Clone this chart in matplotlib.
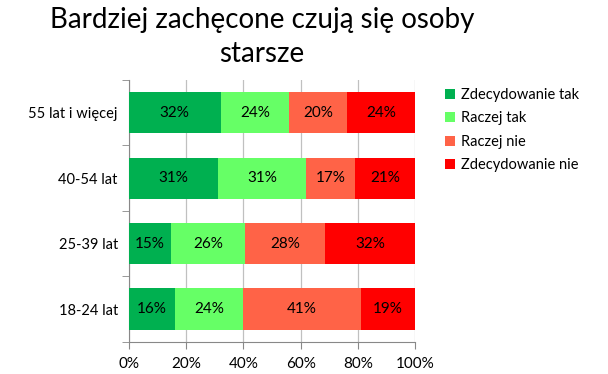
import matplotlib

matplotlib.use("Agg")
import matplotlib.pyplot as plt
import numpy as np

# data
groups = ["18-24 lat", "25-39 lat", "40-54 lat", "55 lat i więcej"]
answers = ["Zdecydowanie tak", "Raczej tak", "Raczej nie", "Zdecydowanie nie"]
zdecydowanie_tak = [16, 15, 31, 32]
raczej_tak = [24, 26, 31, 24]
raczej_nie = [41, 28, 17, 20]
zdecydowanie_nie = [19, 32, 21, 24]
colors = ["#00B050", "#66FF66", "#FF6347", "#FF0000"]

plt.rcParams["font.family"] = ["Lato", "DejaVu Sans"]

series = np.array([zdecydowanie_tak, raczej_tak, raczej_nie, zdecydowanie_nie], dtype=float)
shares = series / series.sum(axis=0) * 100  # 100% stacked, like Excel

fig = plt.figure(figsize=(6.08, 3.74), dpi=100)
ax = fig.add_axes([0.212, 0.086, 0.471, 0.700])

y = np.arange(len(groups))
left = np.zeros(len(groups))
for name, vals, raw, col in zip(answers, shares, series, colors):
    bars = ax.barh(y, vals, left=left, height=0.63, color=col, label=name, zorder=3)
    for b, r in zip(bars, raw):
        ax.text(b.get_x() + b.get_width() / 2, b.get_y() + b.get_height() / 2,
                f"{r:.0f}%", ha="center", va="center", fontsize=11, zorder=4)
    left += vals

ax.set_xlim(0, 100)
ax.set_ylim(-0.5, 3.5)
ax.set_xticks(np.arange(0, 101, 20))
ax.set_xticklabels([f"{v}%" for v in range(0, 101, 20)], fontsize=11)
ax.set_yticks(y)
ax.set_yticklabels(groups, fontsize=10.5)
ax.set_yticks(np.arange(-0.5, 3.6, 1), minor=True)
ax.tick_params(axis="y", which="major", length=0, pad=8)
ax.tick_params(axis="y", which="minor", length=5, color="#888888")
ax.tick_params(axis="x", length=5, color="#888888", pad=6)
ax.grid(axis="x", color="#c0c0c0", linewidth=0.9, zorder=0)
for s in ["top", "right"]:
    ax.spines[s].set_visible(False)
for s in ["left", "bottom"]:
    ax.spines[s].set_color("#888888")

fig.suptitle("Bardziej zachęcone czują się osoby\nstarsze", fontsize=20,
             x=0.431, y=0.982, linespacing=1.4)

fig.legend(loc="upper left", bbox_to_anchor=(0.71, 0.8), frameon=False,
           fontsize=10.5, handlelength=0.7, handleheight=0.7, handletextpad=0.4,
           labelspacing=0.65)

fig.savefig("out.png", dpi=100)
